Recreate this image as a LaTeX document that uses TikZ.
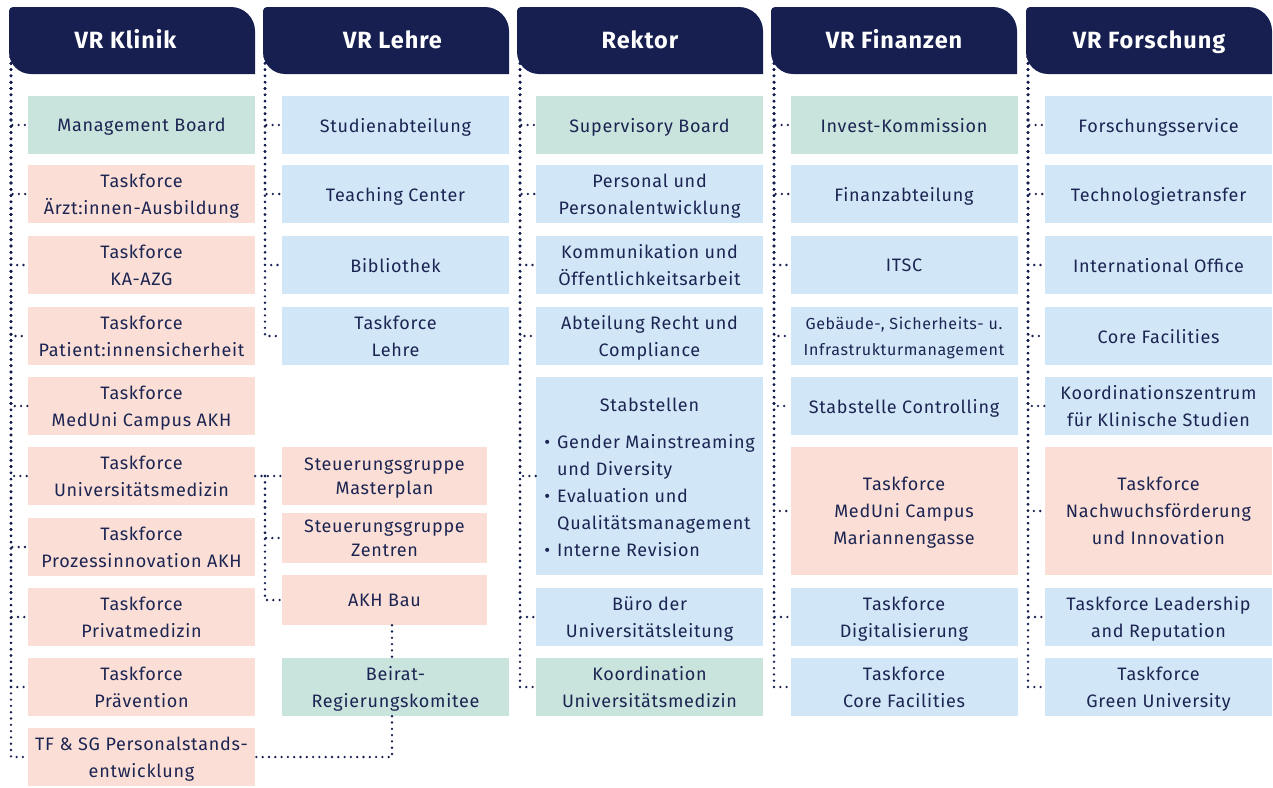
\documentclass[tikz,border=0pt]{standalone}
\usepackage{fontspec}
\setmainfont[LetterSpace=4]{Fira Sans}
\usepackage{tikz}

\definecolor{navy}{HTML}{161F4F}
\definecolor{ink}{HTML}{1C2452}
\definecolor{boardgreen}{HTML}{C8E4DD}
\definecolor{tfpink}{HTML}{FBDFD6}
\definecolor{officeblue}{HTML}{D1E7F7}

\tikzset{
    unit/.style={minimum width=227pt, minimum height=58pt, inner sep=0pt, align=center, text=ink, text depth=-1pt, font=\fontsize{18}{27}\selectfont},
    board/.style={unit, fill=boardgreen},
    taskforce/.style={unit, fill=tfpink},
    office/.style={unit, fill=officeblue},
    group/.style={taskforce, minimum width=205pt, font=\fontsize{18}{24}\selectfont},
    head/.style={minimum width=246pt, minimum height=67pt, inner sep=0pt, text=white, text height=20pt, text depth=4.4pt, font=\fontsize{23.5}{28}\selectfont\bfseries,
        path picture={\fill[navy] (path picture bounding box.south east)
            -- ([yshift=-24pt]path picture bounding box.north east) arc[start angle=0, end angle=90, radius=24pt]
            -- ([xshift=4pt]path picture bounding box.north west) arc[start angle=90, end angle=180, radius=4pt]
            -- ([yshift=22pt]path picture bounding box.south west) arc[start angle=180, end angle=270, radius=22pt]
            -- cycle;}},
    link/.style={draw=navy, line width=2.6pt, line cap=round, dash pattern=on 0pt off 6.3pt},
}

\begin{document}
\begin{tikzpicture}[x=1pt, y=1pt]
        \useasboundingbox (0, 0) rectangle (1273, -787);

        % headers
        \node[head] at (132, -40.5)    (klinik)    {VR Klinik\hspace*{13pt}};
        \node[head] at (386, -40.5)    (lehre)     {\hspace*{13pt}VR Lehre};
        \node[head] at (640, -40.5)    (rektor)    {Rektor};
        \node[head] at (894, -40.5)    (finanzen)  {VR Finanzen};
        \node[head] at (1149, -40.5)   (forschung) {VR Forschung};

        % VR Klinik
        \node[board]     at (141.5, -125)  (mboard)  {Management Board};
        \node[taskforce] at (141.5, -194)  (tfaerzt) {Taskforce\\Ärzt:innen-Ausbildung};
        \node[taskforce] at (141.5, -265)  (tfkaazg) {Taskforce\\KA-AZG};
        \node[taskforce] at (141.5, -336)  (tfpat)   {Taskforce\\Patient:innensicherheit};
        \node[taskforce] at (141.5, -406)  (tfakh)   {Taskforce\\MedUni Campus AKH};
        \node[taskforce] at (141.5, -476)  (tfunimed) {Taskforce\\Universitätsmedizin};
        \node[taskforce] at (141.5, -547)  (tfprozess) {Taskforce\\Prozessinnovation AKH};
        \node[taskforce] at (141.5, -617)  (tfprivat) {Taskforce\\Privatmedizin};
        \node[taskforce] at (141.5, -687)  (tfpraev) {Taskforce\\Prävention};
        \node[taskforce] at (141.5, -757)  (tfsg)    {TF \& SG Personalstands-\\entwicklung};

        % VR Lehre
        \node[office] at (395.5, -125)  (studien)  {Studienabteilung};
        \node[office] at (395.5, -194)  (teaching) {Teaching Center};
        \node[office] at (395.5, -265)  (biblio)   {Bibliothek};
        \node[office] at (395.5, -336)  (tflehre)  {Taskforce\\Lehre};
        \node[group, text depth=-4pt] at (384.5, -476) (sgmaster) {Steuerungsgruppe\\Masterplan};
        \node[group, minimum height=50pt] at (384.5, -538) (sgzentren) {Steuerungsgruppe\\Zentren};
        \node[group, minimum height=50pt] at (384.5, -600) (akhbau) {AKH Bau};
        \node[board] at (395.5, -687)  (beirat) {Beirat-\\Regierungskomitee};

        % Rektor
        \node[board]  at (649.5, -125)  (sboard)   {Supervisory Board};
        \node[office] at (649.5, -194)  (personal) {Personal und\\Personalentwicklung};
        \node[office] at (649.5, -265)  (kommu)    {Kommunikation und\\Öffentlichkeitsarbeit};
        \node[office] at (649.5, -336)  (recht)    {Abteilung Recht und\\Compliance};
        \node[office, minimum height=198pt, text depth=104.6pt] at (649.5, -476) (stab) {Stabstellen\\[10pt]
            \begin{tabular}[t]{@{}l@{\hspace{7pt}}l@{}}
                \textbullet & Gender Mainstreaming\\
                            & und Diversity\\
                \textbullet & Evaluation und\\
                            & Qualitätsmanagement\\
                \textbullet & Interne Revision
            \end{tabular}};
        \node[office] at (649.5, -617)  (buero)    {Büro der\\Universitätsleitung};
        \node[board]  at (649.5, -687)  (koord)    {Koordination\\Universitätsmedizin};

        % VR Finanzen
        \node[board]  at (904, -125)  (invest)   {Invest-Kommission};
        \node[office] at (904, -194)  (finanz)   {Finanzabteilung};
        \node[office] at (904, -265)  (itsc)     {ITSC};
        \node[office, font=\fontsize{16}{26}\selectfont] at (904, -336) (gebaeude) {Gebäude-, Sicherheits- u.\\Infrastrukturmanagement};
        \node[office] at (904, -406)  (controlling) {Stabstelle Controlling};
        \node[taskforce, minimum height=128pt] at (904, -511) (tfmarian) {Taskforce\\MedUni Campus\\Mariannengasse};
        \node[office] at (904, -617)  (tfdigital) {Taskforce\\Digitalisierung};
        \node[office] at (904, -687)  (tfcore)    {Taskforce\\Core Facilities};

        % VR Forschung
        \node[office] at (1158.5, -125)  (fservice) {Forschungsservice};
        \node[office] at (1158.5, -194)  (techtrans) {Technologietransfer};
        \node[office] at (1158.5, -265)  (intoffice) {International Office};
        \node[office] at (1158.5, -336)  (corefac)  {Core Facilities};
        \node[office] at (1158.5, -406)  (kzks)     {Koordinationszentrum\\für Klinische Studien};
        \node[taskforce, minimum height=128pt] at (1158.5, -511) (tfnachwuchs) {Taskforce\\Nachwuchsförderung\\und Innovation};
        \node[office] at (1158.5, -617)  (tfleader) {Taskforce Leadership\\and Reputation};
        \node[office] at (1158.5, -687)  (tfgreen)  {Taskforce\\Green University};

        % spines
        \coordinate (kspine) at (11, -57);
        \coordinate (lspine) at (265, -57);
        \coordinate (rspine) at (520, -57);
        \coordinate (fspine) at (774, -57);
        \coordinate (fospine) at (1028, -57);
        \coordinate (lsub) at (265, -476);
        \coordinate (bend) at (392, -759);

        \draw[link] (kspine) |- (mboard);
        \draw[link] (kspine) |- (tfaerzt);
        \draw[link] (kspine) |- (tfkaazg);
        \draw[link] (kspine) |- (tfpat);
        \draw[link] (kspine) |- (tfakh);
        \draw[link] (kspine) |- (tfunimed);
        \draw[link] (kspine) |- (tfprozess);
        \draw[link] (kspine) |- (tfprivat);
        \draw[link] (kspine) |- (tfpraev);
        \draw[link] (kspine) |- (tfsg);

        \draw[link] (lspine) |- (studien);
        \draw[link] (lspine) |- (teaching);
        \draw[link] (lspine) |- (biblio);
        \draw[link] (lspine) |- (tflehre);

        \draw[link] (tfunimed) -- (sgmaster);
        \draw[link] (lsub) |- (sgzentren);
        \draw[link] (lsub) |- (akhbau);
        \draw[link] (akhbau.south -| bend) -- (beirat.north -| bend);
        \draw[link] (beirat.south -| bend) |- (tfsg);

        \draw[link] (rspine) |- (sboard);
        \draw[link] (rspine) |- (personal);
        \draw[link] (rspine) |- (kommu);
        \draw[link] (rspine) |- (recht);
        \draw[link] (rspine) |- (stab);
        \draw[link] (rspine) |- (buero);
        \draw[link] (rspine) |- (koord);

        \draw[link] (fspine) |- (invest);
        \draw[link] (fspine) |- (finanz);
        \draw[link] (fspine) |- (itsc);
        \draw[link] (fspine) |- (gebaeude);
        \draw[link] (fspine) |- (controlling);
        \draw[link] (fspine) |- (tfmarian);
        \draw[link] (fspine) |- (tfdigital);
        \draw[link] (fspine) |- (tfcore);

        \draw[link] (fospine) |- (fservice);
        \draw[link] (fospine) |- (techtrans);
        \draw[link] (fospine) |- (intoffice);
        \draw[link] (fospine) |- (corefac);
        \draw[link] (fospine) |- (kzks);
        \draw[link] (fospine) |- (tfnachwuchs);
        \draw[link] (fospine) |- (tfleader);
        \draw[link] (fospine) |- (tfgreen);
    \end{tikzpicture}
\end{document}
